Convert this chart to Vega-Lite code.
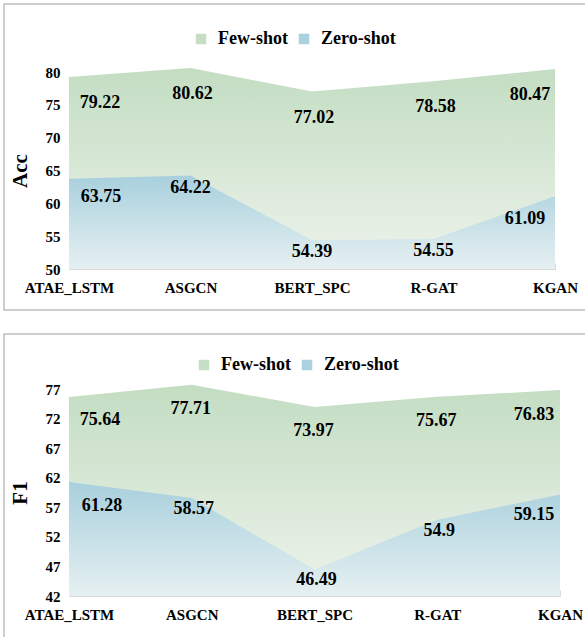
{
  "$schema": "https://vega.github.io/schema/vega-lite/v6.json",
  "padding": {"left": 3, "top": 3, "right": 0, "bottom": 0},
  "autosize": {"type": "pad"},
  "background": "white",
  "config": {
    "view": {"stroke": "#bfbfbf", "strokeWidth": 1.5},
    "font": "Times New Roman, Liberation Serif, serif"
  },
  "data": {"values": [
    {"metric": "Acc", "model": "ATAE_LSTM", "series": "Few-shot", "value": 79.22},
    {"metric": "Acc", "model": "ASGCN", "series": "Few-shot", "value": 80.62},
    {"metric": "Acc", "model": "BERT_SPC", "series": "Few-shot", "value": 77.02},
    {"metric": "Acc", "model": "R-GAT", "series": "Few-shot", "value": 78.58},
    {"metric": "Acc", "model": "KGAN", "series": "Few-shot", "value": 80.47},
    {"metric": "Acc", "model": "ATAE_LSTM", "series": "Zero-shot", "value": 63.75},
    {"metric": "Acc", "model": "ASGCN", "series": "Zero-shot", "value": 64.22},
    {"metric": "Acc", "model": "BERT_SPC", "series": "Zero-shot", "value": 54.39},
    {"metric": "Acc", "model": "R-GAT", "series": "Zero-shot", "value": 54.55},
    {"metric": "Acc", "model": "KGAN", "series": "Zero-shot", "value": 61.09},
    {"metric": "F1", "model": "ATAE_LSTM", "series": "Few-shot", "value": 75.64},
    {"metric": "F1", "model": "ASGCN", "series": "Few-shot", "value": 77.71},
    {"metric": "F1", "model": "BERT_SPC", "series": "Few-shot", "value": 73.97},
    {"metric": "F1", "model": "R-GAT", "series": "Few-shot", "value": 75.67},
    {"metric": "F1", "model": "KGAN", "series": "Few-shot", "value": 76.83},
    {"metric": "F1", "model": "ATAE_LSTM", "series": "Zero-shot", "value": 61.28},
    {"metric": "F1", "model": "ASGCN", "series": "Zero-shot", "value": 58.57},
    {"metric": "F1", "model": "BERT_SPC", "series": "Zero-shot", "value": 46.49},
    {"metric": "F1", "model": "R-GAT", "series": "Zero-shot", "value": 54.9},
    {"metric": "F1", "model": "KGAN", "series": "Zero-shot", "value": 59.15}
  ]},
  "spacing": 22,
  "resolve": {"scale": {"x": "independent", "y": "independent", "color": "independent"}, "legend": {"color": "independent"}},
  "vconcat": [
    {
      "width": 581, "height": 306,
      "view": {"stroke": "#bfbfbf", "strokeWidth": 1.5, "strokeDash": [581, 306, 900]},
      "transform": [{"filter": "datum.metric === 'Acc'"}],
      "encoding": {
        "x": {"field": "model", "type": "ordinal", "sort": ["ATAE_LSTM", "ASGCN", "BERT_SPC", "R-GAT", "KGAN"],
          "scale": {"type": "point", "range": [65, 551], "padding": 0},
          "axis": {"title": null, "offset": -41, "labelAngle": 0, "domainColor": "#d9d9d9", "tickColor": "#d9d9d9", "tickSize": -6, "labelPadding": 17, "labelFont": "Times New Roman, Liberation Serif, serif", "labelFontSize": 15, "labelFontWeight": "bold", "labelColor": "#000000", "grid": false}},
        "y": {"field": "value", "type": "quantitative",
          "scale": {"domain": [50, 80], "range": [265, 68], "nice": false, "zero": false},
          "axis": {"title": "Acc", "values": [50, 55, 60, 65, 70, 75, 80], "offset": -65, "domain": false, "ticks": false, "grid": false, "labelPadding": 9, "labelFont": "Times New Roman, Liberation Serif, serif", "labelFontSize": 15, "labelFontWeight": "bold", "labelColor": "#000000", "titleFont": "Times New Roman, Liberation Serif, serif", "titleFontSize": 21, "titleFontWeight": "bold", "titleColor": "#000000", "titlePadding": 15}}
      },
      "layer": [
        {"transform": [{"filter": "datum.series === 'Few-shot'"}],
         "mark": {"type": "area", "interpolate": "linear", "fill": {"gradient": "linear", "x1": 0, "y1": 0, "x2": 0, "y2": 1, "stops": [{"offset": 0, "color": "#c3ddc2"}, {"offset": 1, "color": "#eef3ec"}]}},
         "encoding": {"y2": {"datum": 50}}},
        {"transform": [{"filter": "datum.series === 'Zero-shot'"}],
         "mark": {"type": "area", "interpolate": "linear", "fill": {"gradient": "linear", "x1": 0, "y1": 0, "x2": 0, "y2": 1, "stops": [{"offset": 0, "color": "#a8d0dd"}, {"offset": 1, "color": "#e6f0f2"}]}},
         "encoding": {"y2": {"datum": 50}}},
        {"mark": {"type": "point", "shape": "square", "filled": true, "opacity": 0},
         "encoding": {"color": {"field": "series", "type": "nominal",
           "scale": {"domain": ["Few-shot", "Zero-shot"], "range": ["#c5dec5", "#a9d1de"]},
           "legend": {"orient": "none", "legendX": 188, "legendY": 26, "direction": "horizontal", "title": null, "symbolType": "square", "symbolSize": 110, "symbolOpacity": 1, "symbolStrokeWidth": 0, "labelFont": "Times New Roman, Liberation Serif, serif", "labelFontSize": 18, "labelFontWeight": "bold", "labelColor": "#000000", "labelOffset": 8, "columnPadding": 7, "padding": 0}}}},
        {"transform": [{"filter": "datum.series === 'Few-shot' && datum.model === 'ATAE_LSTM'"}],
         "mark": {"type": "text", "dx": 31, "dy": 26, "font": "Times New Roman, Liberation Serif, serif", "fontSize": 18, "fontWeight": "bold", "fill": "#000000"},
         "encoding": {"text": {"field": "value", "type": "nominal"}}},
        {"transform": [{"filter": "datum.series === 'Few-shot' && datum.model === 'KGAN'"}],
         "mark": {"type": "text", "dx": -25, "dy": 26, "font": "Times New Roman, Liberation Serif, serif", "fontSize": 18, "fontWeight": "bold", "fill": "#000000"},
         "encoding": {"text": {"field": "value", "type": "nominal"}}},
        {"transform": [{"filter": "datum.series === 'Few-shot' && datum.model !== 'KGAN' && datum.model !== 'ATAE_LSTM'"}],
         "mark": {"type": "text", "dx": 2, "dy": 26, "font": "Times New Roman, Liberation Serif, serif", "fontSize": 18, "fontWeight": "bold", "fill": "#000000"},
         "encoding": {"text": {"field": "value", "type": "nominal"}}},
        {"transform": [{"filter": "datum.series === 'Zero-shot' && datum.model === 'ATAE_LSTM'"}],
         "mark": {"type": "text", "dx": 32, "dy": 18, "font": "Times New Roman, Liberation Serif, serif", "fontSize": 18, "fontWeight": "bold", "fill": "#000000"},
         "encoding": {"text": {"field": "value", "type": "nominal"}}},
        {"transform": [{"filter": "datum.series === 'Zero-shot' && datum.model === 'KGAN'"}],
         "mark": {"type": "text", "dx": -30, "dy": 23, "font": "Times New Roman, Liberation Serif, serif", "fontSize": 18, "fontWeight": "bold", "fill": "#000000"},
         "encoding": {"text": {"field": "value", "type": "nominal"}}},
        {"transform": [{"filter": "datum.series === 'Zero-shot' && datum.model !== 'KGAN' && datum.model !== 'ATAE_LSTM'"}],
         "mark": {"type": "text", "dx": 0, "dy": 12, "font": "Times New Roman, Liberation Serif, serif", "fontSize": 18, "fontWeight": "bold", "fill": "#000000"},
         "encoding": {"text": {"field": "value", "type": "nominal"}}}
      ]
    },
    {
      "width": 581, "height": 304,
      "view": {"stroke": "#bfbfbf", "strokeWidth": 1.5, "strokeDash": [581, 304, 900]},
      "transform": [{"filter": "datum.metric === 'F1'"}],
      "encoding": {
        "x": {"field": "model", "type": "ordinal", "sort": ["ATAE_LSTM", "ASGCN", "BERT_SPC", "R-GAT", "KGAN"],
          "scale": {"type": "point", "range": [65, 556], "padding": 0},
          "axis": {"title": null, "offset": -42, "labelAngle": 0, "domainColor": "#d9d9d9", "tickColor": "#d9d9d9", "tickSize": -6, "labelPadding": 17, "labelFont": "Times New Roman, Liberation Serif, serif", "labelFontSize": 15, "labelFontWeight": "bold", "labelColor": "#000000", "grid": false}},
        "y": {"field": "value", "type": "quantitative",
          "scale": {"domain": [42, 77], "range": [262, 55], "nice": false, "zero": false},
          "axis": {"title": "F1", "values": [42, 47, 52, 57, 62, 67, 72, 77], "offset": -65, "domain": false, "ticks": false, "grid": false, "labelPadding": 9, "labelFont": "Times New Roman, Liberation Serif, serif", "labelFontSize": 15, "labelFontWeight": "bold", "labelColor": "#000000", "titleFont": "Times New Roman, Liberation Serif, serif", "titleFontSize": 21, "titleFontWeight": "bold", "titleColor": "#000000", "titlePadding": 15}}
      },
      "layer": [
        {"transform": [{"filter": "datum.series === 'Few-shot'"}],
         "mark": {"type": "area", "interpolate": "linear", "fill": {"gradient": "linear", "x1": 0, "y1": 0, "x2": 0, "y2": 1, "stops": [{"offset": 0, "color": "#c3ddc2"}, {"offset": 1, "color": "#eef3ec"}]}},
         "encoding": {"y2": {"datum": 42}}},
        {"transform": [{"filter": "datum.series === 'Zero-shot'"}],
         "mark": {"type": "area", "interpolate": "linear", "fill": {"gradient": "linear", "x1": 0, "y1": 0, "x2": 0, "y2": 1, "stops": [{"offset": 0, "color": "#a8d0dd"}, {"offset": 1, "color": "#e6f0f2"}]}},
         "encoding": {"y2": {"datum": 42}}},
        {"mark": {"type": "point", "shape": "square", "filled": true, "opacity": 0},
         "encoding": {"color": {"field": "series", "type": "nominal",
           "scale": {"domain": ["Few-shot", "Zero-shot"], "range": ["#c5dec5", "#a9d1de"]},
           "legend": {"orient": "none", "legendX": 191, "legendY": 22, "direction": "horizontal", "title": null, "symbolType": "square", "symbolSize": 110, "symbolOpacity": 1, "symbolStrokeWidth": 0, "labelFont": "Times New Roman, Liberation Serif, serif", "labelFontSize": 18, "labelFontWeight": "bold", "labelColor": "#000000", "labelOffset": 8, "columnPadding": 7, "padding": 0}}}},
        {"transform": [{"filter": "datum.series === 'Few-shot' && datum.model === 'ATAE_LSTM'"}],
         "mark": {"type": "text", "dx": 31, "dy": 23, "font": "Times New Roman, Liberation Serif, serif", "fontSize": 18, "fontWeight": "bold", "fill": "#000000"},
         "encoding": {"text": {"field": "value", "type": "nominal"}}},
        {"transform": [{"filter": "datum.series === 'Few-shot' && datum.model === 'KGAN'"}],
         "mark": {"type": "text", "dx": -26, "dy": 25, "font": "Times New Roman, Liberation Serif, serif", "fontSize": 18, "fontWeight": "bold", "fill": "#000000"},
         "encoding": {"text": {"field": "value", "type": "nominal"}}},
        {"transform": [{"filter": "datum.series === 'Few-shot' && datum.model !== 'KGAN' && datum.model !== 'ATAE_LSTM'"}],
         "mark": {"type": "text", "dx": -1, "dy": 24, "font": "Times New Roman, Liberation Serif, serif", "fontSize": 18, "fontWeight": "bold", "fill": "#000000"},
         "encoding": {"text": {"field": "value", "type": "nominal"}}},
        {"transform": [{"filter": "datum.series === 'Zero-shot' && datum.model === 'ATAE_LSTM'"}],
         "mark": {"type": "text", "dx": 33, "dy": 24, "font": "Times New Roman, Liberation Serif, serif", "fontSize": 18, "fontWeight": "bold", "fill": "#000000"},
         "encoding": {"text": {"field": "value", "type": "nominal"}}},
        {"transform": [{"filter": "datum.series === 'Zero-shot' && datum.model === 'KGAN'"}],
         "mark": {"type": "text", "dx": -26, "dy": 20, "font": "Times New Roman, Liberation Serif, serif", "fontSize": 18, "fontWeight": "bold", "fill": "#000000"},
         "encoding": {"text": {"field": "value", "type": "nominal"}}},
        {"transform": [{"filter": "datum.series === 'Zero-shot' && datum.model !== 'KGAN' && datum.model !== 'ATAE_LSTM'"}],
         "mark": {"type": "text", "dx": 2, "dy": 11, "font": "Times New Roman, Liberation Serif, serif", "fontSize": 18, "fontWeight": "bold", "fill": "#000000"},
         "encoding": {"text": {"field": "value", "type": "nominal"}}}
      ]
    }
  ]
}
